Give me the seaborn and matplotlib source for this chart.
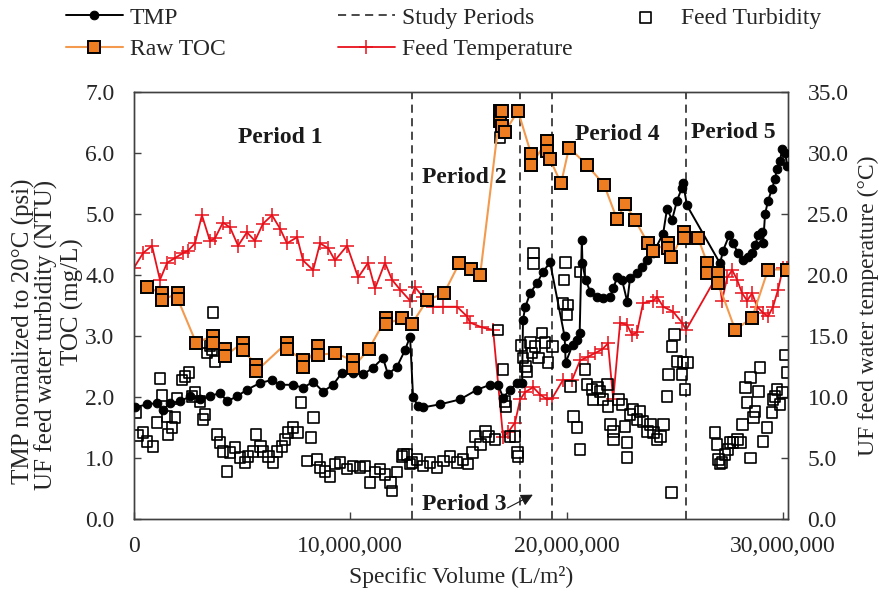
import matplotlib
matplotlib.use("Agg")
import matplotlib.pyplot as plt
import seaborn as sns
import pandas as pd
from matplotlib.ticker import FuncFormatter, MultipleLocator

# ---------------- data (x in million L/m2) ----------------
tmp_x = [0.05, 0.6, 1.06, 1.34, 1.66, 2.13, 2.59, 3.05, 3.51, 3.98, 4.3, 4.76, 5.22, 5.83,
         6.38, 6.75, 7.35, 7.81, 8.28, 8.74, 9.2, 9.62, 10.12, 10.59, 11.05, 11.51, 11.74,
         12.16, 12.53, 12.76, 12.9, 13.13, 13.36, 14.15, 15.07, 15.86, 16.46, 16.83, 17.06,
         17.38, 17.71, 17.94, 17.98, 18.08, 18.31, 18.63, 18.91, 19.23, 19.9, 19.93, 19.95,
         20.27, 20.5, 20.6, 20.7, 20.73, 20.87, 21.1, 21.4, 21.7, 22.0, 22.15, 22.33, 22.56,
         22.8, 22.93, 23.25, 23.49, 23.72, 24.0, 24.46, 24.64, 24.87, 25.1, 25.33, 25.38,
         25.56, 27.09, 27.23, 27.51, 27.69, 27.92, 28.15, 28.39, 28.57, 28.71, 28.85, 29.03,
         29.08, 29.17, 29.31, 29.49, 29.63, 29.72, 29.86, 29.96, 30.1, 30.19]
tmp_y = [1.83, 1.88, 1.9, 1.79, 1.9, 1.93, 2.01, 1.96, 2.01, 2.07, 1.93, 2.01, 2.12, 2.23,
         2.28, 2.2, 2.2, 2.15, 2.25, 2.09, 2.2, 2.4, 2.4, 2.37, 2.48, 2.64, 2.37,
         2.5, 2.77, 2.99, 2.0, 1.85, 1.83, 1.88, 1.96, 2.12, 2.2, 2.2, 1.99,
         2.12, 2.23, 2.23, 3.26, 3.47, 3.7, 3.87, 4.05, 4.21, 3.0, 2.8, 2.56,
         2.85, 2.94, 3.05, 4.57, 4.19, 3.92, 3.72, 3.64, 3.62, 3.64, 3.78, 3.96, 3.92,
         3.56, 3.95, 4.03, 4.13, 4.24, 4.36, 4.68, 5.09, 4.9, 5.22, 5.43, 5.51,
         5.14, 4.19, 4.4, 4.65, 4.52, 4.36, 4.24, 4.29, 4.36, 4.49, 4.65, 4.7,
         4.52, 5.0, 5.22, 5.41, 5.58, 5.74, 5.87, 6.07, 6.0, 5.79]

toc_x = [0.6, 1.29, 1.29, 2.03, 2.03, 2.87, 3.65, 3.65, 4.21, 4.21, 5.04, 5.04, 5.64, 5.64,
         7.07, 7.07, 7.81, 7.81, 8.51, 8.51, 9.29, 10.12, 10.12, 10.86, 11.65, 11.65, 12.39,
         12.85, 13.55, 14.33, 15.03, 15.58, 16.0, 16.92, 16.92, 17.0, 17.0, 17.15, 17.75,
         18.35, 18.35, 19.09, 19.09, 19.23, 19.74, 20.11, 20.94, 21.73, 22.33, 22.7, 23.16,
         23.76, 23.99, 24.69, 24.69, 24.83, 25.43, 25.43, 26.08, 26.49, 26.49, 27.0, 27.0,
         27.79, 28.57, 29.31, 30.19]
toc_y = [3.8, 3.7, 3.59, 3.7, 3.6, 2.89, 3.0, 2.89, 2.79, 2.68, 2.89, 2.77, 2.53, 2.42,
         2.89, 2.79, 2.6, 2.5, 2.83, 2.69, 2.72, 2.6, 2.48, 2.79, 3.29, 3.2, 3.29,
         3.2, 3.59, 3.7, 4.19, 4.1, 4.0, 6.69, 6.52, 6.69, 6.45, 6.35, 6.69,
         5.99, 5.8, 6.2, 6.04, 5.9, 5.5, 6.09, 5.8, 5.48, 4.91, 5.17, 4.9,
         4.52, 4.4, 4.52, 4.44, 4.29, 4.7, 4.6, 4.6, 4.2, 4.03, 4.03, 3.87,
         3.1, 3.3, 4.09, 4.09]

turb_x = [0.09, 0.18, 0.42, 0.6, 0.88, 1.06, 1.2, 1.29, 1.53, 1.57, 1.76, 1.9, 1.99, 2.22,
          2.36, 2.54, 2.68, 2.82, 3.05, 3.19, 3.28, 3.37, 3.51, 3.61, 3.65, 3.74, 3.84, 3.98,
          4.11, 4.3, 4.44, 4.67, 4.9, 5.13, 5.27, 5.5, 5.64, 5.83, 5.96, 6.2, 6.43, 6.61,
          6.84, 6.98, 7.12, 7.35, 7.54, 7.72, 8.0, 8.18, 8.28, 8.46, 8.6, 8.83, 9.06, 9.29,
          9.52, 9.85, 10.12, 10.45, 10.68, 10.91, 11.14, 11.37, 11.6, 11.84, 11.93, 12.16,
          12.39, 12.44, 12.62, 12.76, 12.85, 13.08, 13.36, 13.68, 14.01, 14.29, 14.61, 14.93,
          15.21, 15.44, 15.63, 15.77, 16.0, 16.23, 16.37, 16.69, 16.83, 16.92, 17.06, 17.15,
          17.2, 17.38, 17.61, 17.71, 17.75, 17.89, 17.98, 18.08, 18.17, 18.31, 18.4, 18.45,
          18.45, 18.54, 18.68, 18.86, 19.0, 19.14, 19.33, 19.83, 19.88, 19.93, 20.02, 20.06,
          20.16, 20.3, 20.48, 20.62, 20.62, 20.85, 20.94, 21.17, 21.22, 21.41, 21.54, 21.68,
          21.87, 21.91, 22.01, 22.15, 22.15, 22.38, 22.56, 22.7, 22.79, 22.79, 22.93, 23.07,
          23.25, 23.39, 23.53, 23.72, 23.86, 24.0, 24.18, 24.32, 24.46, 24.64, 24.69, 24.83,
          24.87, 24.97, 25.1, 25.33, 25.38, 25.47, 25.57, 26.86, 26.95, 27.0, 27.09, 27.18,
          27.32, 27.46, 27.55, 27.69, 27.88, 28.02, 28.11, 28.25, 28.34, 28.48, 28.48, 28.62,
          28.71, 28.85, 28.94, 29.08, 29.26, 29.49, 29.54, 29.63, 29.72, 29.86, 29.96, 30.1,
          30.19]
turb_y = [1.75, 1.37, 1.42, 1.27, 1.19, 1.58, 2.3, 2.02, 1.68, 1.39, 1.5, 1.66, 1.97, 2.28,
          2.33, 2.4, 2.01, 2.07, 1.93, 1.63, 1.71, 2.72, 2.85, 2.77, 3.39, 2.58, 1.39, 1.26,
          1.11, 0.78, 1.09, 1.17, 1.01, 0.93, 1.03, 1.11, 1.39, 1.19, 1.11, 1.03, 0.93, 1.11,
          1.19, 1.3, 1.42, 1.5, 1.42, 1.91, 0.95, 1.34, 1.66, 0.98, 0.85, 0.78, 0.7, 0.9,
          0.93, 0.82, 0.87, 0.85, 0.87, 0.6, 0.77, 0.82, 0.73, 0.6, 0.46, 0.77,
          1.03, 1.06, 1.06, 0.9, 0.93, 0.98, 0.87, 0.93, 0.85, 0.95, 1.03, 0.93,
          0.98, 0.9, 1.09, 1.35, 1.22, 1.44, 1.35, 1.3, 3.1, 6.25, 2.45, 1.93,
          1.85, 1.35, 1.35, 1.09, 1.03, 2.85, 2.64, 2.5, 2.42, 2.89, 2.72, 4.36,
          4.19, 2.83, 2.64, 3.05, 2.89, 2.56, 2.83, 3.53, 3.92, 4.21, 3.35, 3.51,
          2.17, 1.68, 1.5, 1.14, 4.05, 2.45, 2.2, 2.12, 1.96, 2.15, 2.09, 1.96,
          2.2, 1.85, 1.55, 1.44, 1.3, 1.96, 1.88, 1.52, 1.26, 1.01, 1.71, 1.79,
          1.63, 1.76, 1.6, 1.44, 1.55, 1.42, 1.3, 1.35, 1.55, 2.01, 2.37, 0.44,
          2.83, 3.02, 2.58, 2.37, 2.56, 2.12, 2.56, 1.42, 1.22, 0.98, 0.9, 0.93,
          1.06, 1.14, 1.26, 1.26, 1.3, 1.26, 1.55, 2.15, 1.91, 1.0, 2.32, 1.66,
          1.76, 2.09, 2.48, 1.27, 1.5, 1.74, 1.96, 2.01, 2.12, 1.88, 2.07, 2.69,
          2.4]

temp_x = [0.0, 0.42, 0.83, 1.2, 1.53, 1.9, 2.27, 2.5, 2.82, 3.14, 3.51, 3.74, 4.11, 4.44,
          4.81, 5.22, 5.59, 5.96, 6.38, 6.75, 7.07, 7.54, 7.81, 8.28, 8.6, 8.97, 9.29, 9.85,
          10.36, 10.82, 11.14, 11.6, 11.93, 12.3, 12.76, 12.99, 13.36, 13.82, 14.29, 14.93,
          15.4, 15.53, 16.09, 16.6, 17.06, 17.29, 17.61, 17.85, 18.08, 18.45, 18.77, 19.09,
          19.33, 19.83, 20.25, 20.62, 20.99, 21.31, 21.64, 21.91, 22.15, 22.47, 22.79, 23.02,
          23.25, 23.53, 24.0, 24.18, 24.46, 24.92, 25.33, 25.52, 27.0, 27.18, 27.42, 27.65,
          27.88, 28.11, 28.34, 28.57, 28.8, 29.08, 29.31, 29.54, 29.77, 30.0, 30.19]
temp_y = [20.6, 21.8, 22.4, 19.6, 21.0, 21.4, 21.8, 22.0, 22.6, 24.9, 22.8, 23.0, 24.3, 23.9,
          22.4, 23.5, 22.8, 24.2, 24.9, 23.8, 22.6, 23.1, 21.2, 20.4, 22.6, 22.2, 21.2, 22.4,
          19.8, 21.0, 18.9, 21.0, 19.6, 18.8, 17.9, 19.0, 18.2, 17.4, 17.4, 17.4,
          16.6, 16.1, 15.7, 15.5, 6.7, 7.1, 7.9, 9.8, 10.4, 10.8, 10.2, 9.8,
          9.9, 11.4, 11.4, 13.0, 13.3, 13.6, 13.9, 14.4, 9.8, 16.1, 15.9, 15.1,
          15.3, 17.7, 17.9, 18.2, 17.4, 17.0, 16.1, 15.5, 20.1, 17.9, 19.8, 20.4,
          19.6, 18.5, 17.9, 18.5, 17.4, 16.9, 16.6, 17.4, 18.8, 20.6, 20.6]

period_bounds = [12.85, 17.85, 19.33, 25.5]
period_names = ["Period 1", "Period 2", "Period 4", "Period 5"]
period_label_x = [6.75, 15.26, 22.33, 27.7]
period_label_y = [6.25, 5.6, 6.31, 6.33]

M = 1e6
tmp_df = pd.DataFrame({"x": [v * M for v in tmp_x], "y": tmp_y})
toc_df = pd.DataFrame({"x": [v * M for v in toc_x], "y": toc_y})
turb_df = pd.DataFrame({"x": [v * M for v in turb_x], "y": turb_y})
temp_df = pd.DataFrame({"x": [v * M for v in temp_x], "y": temp_y})

# ---------------- style ----------------
sns.set_style("white")
plt.rcParams["font.family"] = ["Liberation Serif", "DejaVu Serif"]
plt.rcParams["font.size"] = 17
TXT = "#262626"
SPINE = "#404040"

fig = plt.figure(figsize=(8.83, 5.91), dpi=100)
ax = fig.add_axes([134 / 883, 1 - 519 / 591, (788 - 134) / 883, (519 - 92) / 591])
ax2 = ax.twinx()

# temperature on secondary axis
sns.lineplot(data=temp_df, x="x", y="y", ax=ax2, color="#E8111B", linewidth=1.3,
             marker="+", markersize=9.5, markeredgewidth=1.1, markeredgecolor="#E8111B",
             estimator=None, sort=False, legend=False)
h_temp = ax2.lines[-1]

# study periods
h_per = None
for b in period_bounds:
    h_per = ax.axvline(b * M, color="#3a3a3a", linewidth=1.3, linestyle=(0, (4.5, 3)), zorder=1)

sns.scatterplot(data=turb_df, x="x", y="y", ax=ax, marker="s", s=60,
                facecolor="none", edgecolor="black", linewidth=1.2, legend=False, zorder=2)
h_turb = ax.collections[-1]
h_turb.set_facecolor("none")
h_turb.set_edgecolor("black")

sns.lineplot(data=tmp_df, x="x", y="y", ax=ax, color="black", linewidth=1.4,
             marker="o", markersize=6.2, markeredgecolor="black", markerfacecolor="black",
             estimator=None, sort=False, legend=False, zorder=3)
h_tmp = ax.lines[-1]

sns.lineplot(data=toc_df, x="x", y="y", ax=ax, color="#F39A4E", linewidth=1.5,
             marker="s", markersize=8.5, markerfacecolor="#EE7D22", markeredgecolor="black",
             markeredgewidth=1.4, estimator=None, sort=False, legend=False, zorder=4)
h_toc = ax.lines[-1]

ax.set_zorder(ax2.get_zorder() + 1)
ax.patch.set_visible(False)

# axes limits / ticks
ax.set_xlim(0, 30.23 * M)
ax.set_ylim(0, 7)
ax2.set_ylim(0, 35)
ax.set_xticks([0, 10 * M, 20 * M, 30 * M])
ax.xaxis.set_major_formatter(FuncFormatter(lambda v, p: f"{v:,.0f}"))
ax.yaxis.set_major_locator(MultipleLocator(1))
ax.yaxis.set_major_formatter(FuncFormatter(lambda v, p: f"{v:.1f}"))
ax2.yaxis.set_major_locator(MultipleLocator(5))
ax2.yaxis.set_major_formatter(FuncFormatter(lambda v, p: f"{v:.1f}"))
ax.set_ylabel("")
ax2.set_ylabel("")

ax.tick_params(axis="x", direction="in", length=5, width=1, color=SPINE, labelcolor=TXT,
               pad=12, labelsize=17, bottom=True)
ax.tick_params(axis="y", direction="in", length=5, width=1, color=SPINE, labelcolor=TXT,
               pad=14, labelsize=17, left=True)
ax2.tick_params(axis="y", direction="in", length=5, width=1, color=SPINE, labelcolor=TXT,
                pad=14, labelsize=17, right=True)
for a in (ax, ax2):
    for s in a.spines.values():
        s.set_color(SPINE)
        s.set_linewidth(1.0)
        s.set_visible(True)

ax.set_xlabel("Specific Volume (L/m²)", color=TXT, fontsize=17, labelpad=7)

# left labels (three lines) and right label
fig.text(23 / 883, 1 - 331 / 591, "TMP normalized to 20°C (psi)", rotation=90,
         ha="center", va="center", color=TXT, fontsize=18)
fig.text(46 / 883, 1 - 335 / 591, "UF feed water turbidity (NTU)", rotation=90,
         ha="center", va="center", color=TXT, fontsize=18)
fig.text(72 / 883, 1 - 302 / 591, "TOC (mg/L)", rotation=90,
         ha="center", va="center", color=TXT, fontsize=18)
fig.text(868 / 883, 1 - 306 / 591, "UF feed water temperature (°C)", rotation=90,
         ha="center", va="center", color=TXT, fontsize=17)

# period labels
for name, px, py in zip(period_names, period_label_x, period_label_y):
    ax.text(px * M, py, name, ha="center", va="center", fontweight="bold",
            fontsize=17, color="#1a1a1a", zorder=6)
ax.text(13.3 * M, 0.245, "Period 3", ha="left", va="center", fontweight="bold",
        fontsize=17, color="#1a1a1a", zorder=6)
ax.annotate("", xy=(18.55 * M, 0.42), xytext=(17.15 * M, 0.16),
            arrowprops=dict(arrowstyle="-|>", color="#1a1a1a", lw=0.8, mutation_scale=18),
            zorder=6)

# legends (three columns)
common = dict(loc="upper left", frameon=False, borderpad=0, borderaxespad=0,
              handlelength=2.4, handletextpad=0.3, labelspacing=0.42, fontsize=17,
              labelcolor=TXT)
top = 1 - 7 / 591
fig.legend([h_tmp, h_toc], ["TMP", "Raw TOC"], bbox_to_anchor=(66 / 883, top), **common)
fig.legend([h_per, h_temp], ["Study Periods", "Feed Temperature"],
           bbox_to_anchor=(338 / 883, top), **common)
fig.legend([h_turb], ["Feed Turbidity"], bbox_to_anchor=(617 / 883, top),
           scatterpoints=1, **common)

fig.savefig("out.png", dpi=100)
